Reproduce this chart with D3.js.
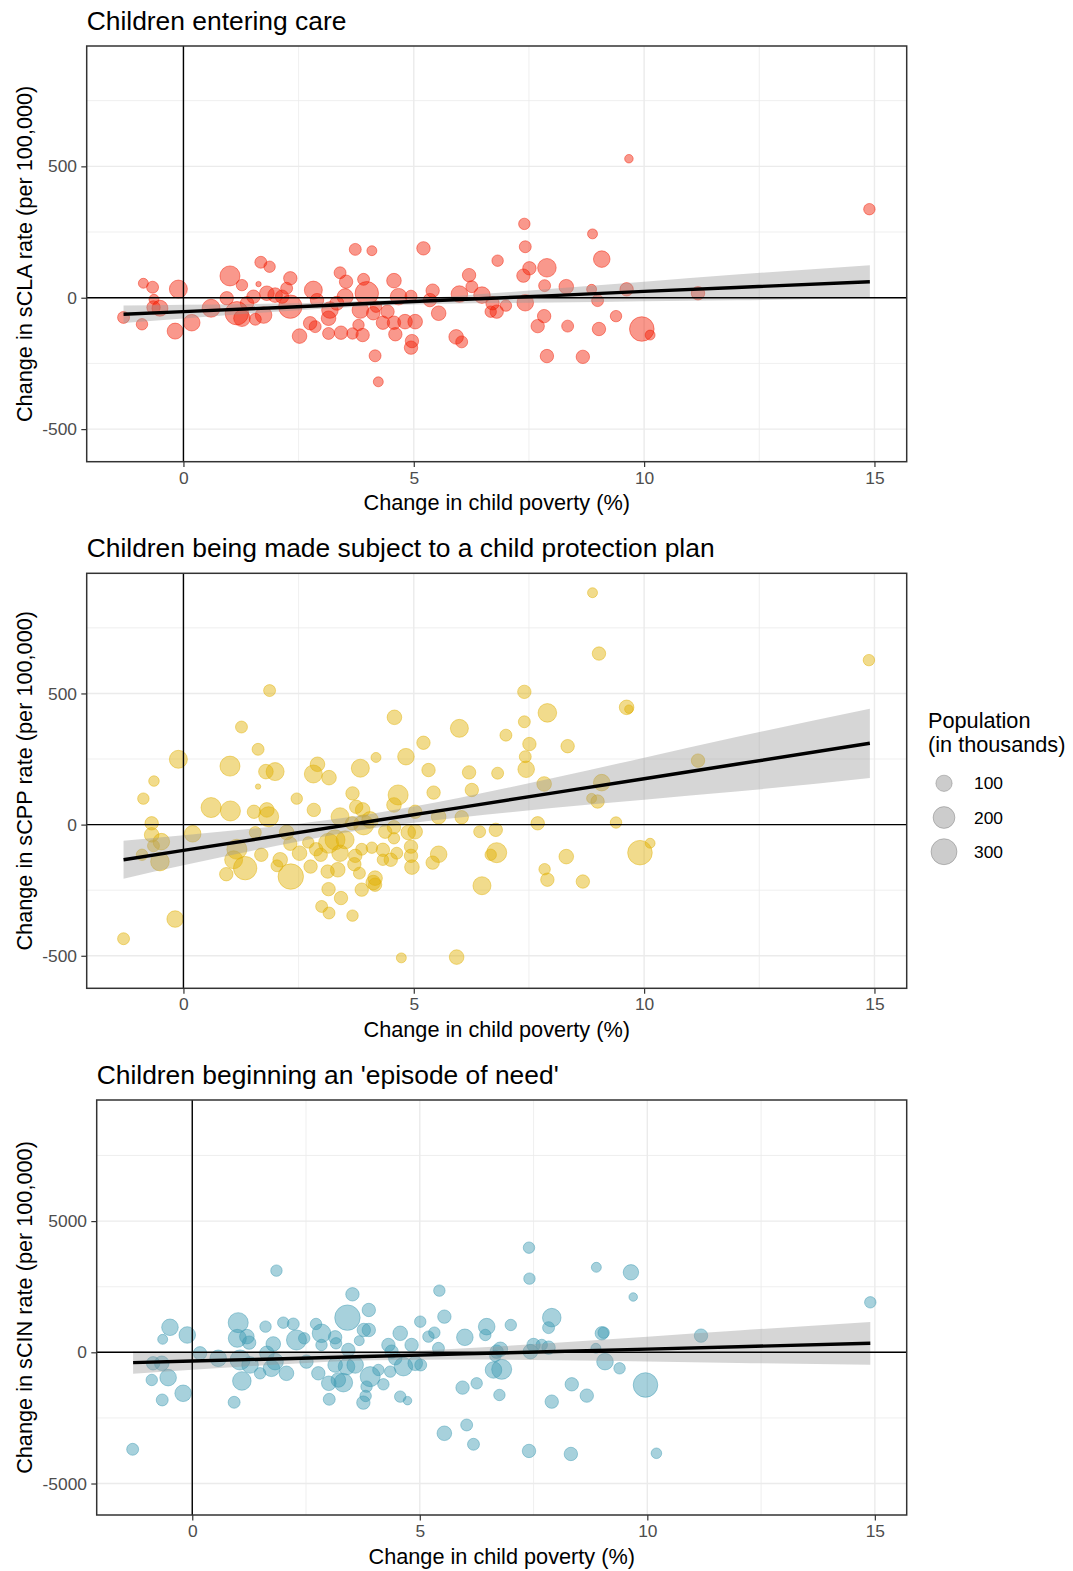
<!DOCTYPE html>
<html>
<head>
<meta charset="utf-8">
<style>
  body { margin: 0; background: #fff; }
  svg text { font-family: "Liberation Sans", Arial, sans-serif; }
</style>
</head>
<body>
<script src="https://cdn.jsdelivr.net/npm/d3@7"></script>
<script>
// points: [change in child poverty (%), change in rate per 100,000, population (thousands)]
const claPoints = [
  [-1.30,-75,45],[-0.90,-101,40],[-0.87,55,27],[-0.67,40,45],[-0.64,-6,27],[-0.65,-37,61],[-0.51,-40,95],
  [-0.11,33,127],[-0.18,-127,95],[0.18,-95,104],[0.60,-40,127],[1.01,83,164],[1.27,48,40],[0.94,-2,61],
  [1.16,-59,236],[1.27,-78,104],[1.38,-21,61],[1.68,135,45],[1.87,118,40],[1.63,52,3],[1.56,-82,45],
  [1.74,-66,104],[1.52,4,61],[1.81,17,76],[1.99,10,76],[2.14,4,61],[2.32,74,61],[2.24,36,45],[2.32,-34,236],
  [2.52,-146,76],[2.82,29,127],[2.75,-97,61],[2.86,-110,45],[3.15,-78,76],[3.15,-136,45],[3.40,95,45],
  [3.53,61,61],[3.42,-133,61],[3.73,184,45],[4.09,179,27],[3.91,70,45],[3.98,17,236],[3.84,-47,104],
  [3.67,-136,40],[3.89,-142,61],[3.80,-104,40],[4.12,-59,61],[4.16,-221,45],[4.23,-320,27],[3.18,-47,104],
  [3.33,-21,68],[3.51,4,95],[2.90,-9,61],[4.57,65,76],[4.67,4,104],[4.94,6,45],[5.41,27,61],[5.35,-9,61],
  [5.21,188,61],[5.99,14,104],[6.26,42,45],[6.20,86,61],[6.48,10,104],[4.18,-34,40],[4.43,-53,61],
  [4.33,-95,61],[4.57,-95,61],[4.60,-139,61],[4.81,-91,76],[5.03,-91,76],[4.96,-165,61],[4.94,-190,61],
  [5.54,-59,76],[5.92,-149,76],[6.04,-168,45],[6.67,-53,40],[6.80,-53,61],[7.00,-30,40],[6.71,-21,61],
  [6.82,141,40],[7.40,281,40],[7.42,194,45],[7.51,112,61],[7.38,84,61],[7.89,114,137],[7.42,-19,104],
  [7.84,46,45],[8.31,42,76],[7.83,-70,61],[7.69,-108,61],[8.34,-108,45],[7.89,-222,61],[8.67,-225,61],
  [8.88,243,27],[9.08,147,104],[9.67,529,17],[8.86,32,27],[8.99,-11,45],[9.02,-119,61],[9.39,-70,40],
  [9.62,32,61],[9.95,-119,264],[10.13,-142,27],[11.17,17,61],[14.89,337,40]
];
const cppPoints = [
  [-1.30,-435,45],[-0.18,-360,104],[-0.87,99,40],[-0.64,166,32],[-0.11,249,127],[-0.69,5,61],[-0.69,-39,76],
  [-0.48,-65,104],[-0.90,-115,40],[-0.51,-141,137],[-0.65,-81,45],[0.20,-35,104],[0.60,65,164],[1.01,223,164],
  [1.02,52,164],[1.26,372,45],[1.62,287,45],[1.87,511,45],[1.79,202,76],[1.99,202,127],[1.62,145,3],
  [1.53,49,61],[1.81,56,76],[1.85,30,164],[1.56,-30,45],[1.16,-94,164],[1.09,-134,127],[1.34,-166,236],
  [0.93,-189,61],[1.69,-115,61],[2.10,-134,76],[2.03,-157,45],[2.33,-198,285],[2.24,-30,76],[2.32,-73,61],
  [2.52,-109,76],[2.46,99,40],[2.83,56,61],[2.82,193,127],[2.91,230,76],[3.16,179,76],[2.76,-160,61],
  [2.71,-68,40],[2.88,-94,61],[2.98,-115,61],[3.13,-179,61],[3.35,-172,76],[3.15,-246,61],[3.00,-312,45],
  [3.16,-337,45],[3.42,-280,61],[3.67,-347,40],[3.87,-248,61],[3.40,30,127],[3.29,-58,164],[3.51,-58,127],
  [3.40,-109,104],[3.73,-119,61],[3.82,-185,45],[3.67,119,61],[3.75,68,61],[3.89,56,76],[3.84,215,127],
  [4.18,256,27],[3.91,-1,164],[3.87,-94,45],[4.12,-221,76],[3.15,-71,164],[3.71,-151,61],[3.66,5,61],
  [8.88,884,27],[9.02,652,61],[7.40,506,61],[7.90,426,137],[9.62,447,76],[9.67,440,17],[4.58,409,76],
  [5.99,367,127],[7.40,392,45],[7.00,341,45],[7.51,307,61],[8.34,299,61],[5.21,312,61],[4.83,259,104],
  [7.42,259,45],[7.44,211,104],[5.32,208,61],[6.20,199,61],[6.82,196,45],[4.66,113,164],[4.57,75,76],
  [5.43,122,61],[6.26,132,61],[7.83,155,76],[9.08,160,104],[8.86,100,27],[8.99,88,61],[5.03,49,61],
  [5.54,30,76],[6.04,28,61],[4.05,18,104],[7.69,5,61],[9.39,8,40],[4.38,-27,61],[4.57,-10,61],[4.57,-52,40],
  [4.88,-30,76],[5.03,-27,76],[6.43,-27,45],[6.78,-20,61],[4.09,-88,40],[4.33,-96,61],[4.33,-134,40],
  [4.50,-134,61],[4.63,-109,45],[4.94,-84,61],[4.94,-119,61],[4.96,-162,76],[5.54,-113,104],[5.41,-145,61],
  [6.80,-107,164],[6.67,-115,40],[6.48,-233,127],[4.16,-204,76],[4.16,-229,61],[7.84,-170,40],[7.90,-210,61],
  [8.31,-122,76],[8.67,-217,61],[9.91,-107,264],[10.13,-71,27],[4.73,-508,27],[5.93,-505,76],[14.88,627,40],
  [11.17,244,61]
];
const cinPoints = [
  [-1.31,-3696,45],[-0.89,-1054,40],[-0.66,-1816,45],[-0.65,495,27],[-0.49,953,104],[-0.53,-965,104],
  [-0.67,-419,76],[-0.86,-419,61],[-0.20,-1562,104],[-0.11,660,104],[0.17,-38,61],[0.57,-229,104],
  [0.92,-1905,45],[1.01,1130,164],[0.99,533,127],[1.20,597,76],[1.25,368,61],[1.09,-1092,137],[1.05,-292,164],
  [1.27,-483,104],[1.61,978,40],[1.85,3112,40],[2.00,1130,40],[2.22,1080,45],[2.29,470,164],[2.46,533,40],
  [1.78,318,76],[1.82,-356,104],[1.74,-610,104],[1.49,-800,40],[2.07,-800,76],[1.64,-38,76],[2.51,-356,61],
  [2.72,1080,40],[2.84,724,137],[2.84,279,40],[3.14,572,61],[3.16,343,40],[3.41,1321,285],[3.52,2210,61],
  [3.88,1613,61],[3.88,851,61],[3.77,851,61],[3.67,444,27],[3.43,89,61],[2.77,-800,61],[3.01,-1791,45],
  [3.00,-1181,76],[3.21,-1054,76],[3.32,-1156,137],[3.14,-483,76],[3.39,-546,104],[3.58,-483,104],
  [3.91,-927,164],[3.83,-1308,40],[3.81,-1664,40],[3.76,-1918,61],[4.09,-673,40],[4.20,-1219,40],
  [4.35,-737,40],[4.31,279,61],[4.38,25,61],[4.57,724,76],[4.57,-1689,40],[4.73,-1842,17],[4.64,-546,137],
  [4.46,-229,61],[4.82,279,61],[4.90,-419,76],[5.02,-483,45],[5.01,1168,40],[5.19,597,40],[5.32,749,40],
  [5.43,2350,40],[5.54,1359,61],[5.41,152,45],[5.94,-1346,61],[6.25,-1181,40],[6.03,-2769,45],
  [6.18,-3505,45],[5.54,-3086,76],[5.99,572,104],[6.47,978,104],[6.44,660,40],[6.69,25,61],[6.62,-673,104],
  [6.75,-1626,40],[7.00,1041,40],[7.40,3988,40],[7.41,2807,40],[7.90,1321,137],[7.83,940,45],[8.88,3239,27],
  [9.64,3048,87],[9.69,2108,17],[9.00,724,61],[9.04,749,40],[11.18,635,61],[14.90,1905,40],[6.77,114,76],
  [6.66,-140,40],[6.80,-648,164],[7.43,25,76],[7.50,279,61],[7.68,279,40],[7.83,178,61],[8.87,152,27],
  [9.07,-356,104],[9.39,-610,40],[9.96,-1245,264],[10.20,-3848,32],[7.90,-1880,61],[8.34,-1219,61],
  [8.67,-1651,61],[7.40,-3759,61],[8.32,-3874,61]
];

// linear fit and 95% band, read at these x values
const fitX   = [-1.3, 0, 2, 4, 6, 8, 10, 12, 14.9];
const claFit = [-63, -53, -38, -22, -7, 8, 24, 39, 61];
const claLo  = [-96, -79, -53, -32, -22, -18, -13, -10, 0];
const claHi  = [-30, -27, -22, -12, 8, 34, 61, 88, 124];
const cppFit = [-134, -98, -44, 11, 65, 120, 175, 230, 310];
const cppLo  = [-206, -155, -82, -17, 27, 63, 95, 126, 178];
const cppHi  = [-62, -41, -6, 39, 102, 177, 255, 334, 442];
const cinFit = [-394, -334, -243, -152, -61, 30, 121, 212, 343];
const cinLo  = [-819, -669, -455, -302, -273, -305, -353, -407, -470];
const cinHi  = [31, 1, -31, -2, 151, 365, 595, 831, 1156];

const xTicks = [0, 5, 10, 15];
const xMinor = [2.5, 7.5, 12.5];
const legendSizes = [100, 200, 300];

const width = 1073, height = 1571;
const svg = d3.select("body").append("svg")
  .attr("width", width).attr("height", height)
  .style("display", "block");

const xDomain = [-2.1, 15.7];
const rScale = d3.scaleSqrt().domain([1, 300]).range([2.2, 13]);

const panels = [
  { title: "Children entering care", ylab: "Change in sCLA rate (per 100,000)", color: "#F21A00",
    pts: claPoints, fit: claFit, lo: claLo, hi: claHi,
    left: 86.7, right: 906.7, top: 46, bottom: 461.7,
    yDomain: [-624, 958], yTicks: [-500, 0, 500], yMinor: [-250, 250, 750] },
  { title: "Children being made subject to a child protection plan", ylab: "Change in sCPP rate (per 100,000)", color: "#E1AF00",
    pts: cppPoints, fit: cppFit, lo: cppLo, hi: cppHi,
    left: 86.7, right: 906.7, top: 573.3, bottom: 988.3,
    yDomain: [-624, 958], yTicks: [-500, 0, 500], yMinor: [-250, 250, 750] },
  { title: "Children beginning an 'episode of need'", ylab: "Change in sCIN rate (per 100,000)", color: "#3B9AB2",
    pts: cinPoints, fit: cinFit, lo: cinLo, hi: cinHi,
    left: 96.7, right: 906.7, top: 1100, bottom: 1515,
    yDomain: [-6200, 9615], yTicks: [-5000, 0, 5000], yMinor: [-2500, 2500, 7500] }
];

function drawPanel(p) {
  const x = d3.scaleLinear().domain(xDomain).range([p.left, p.right]);
  const y = d3.scaleLinear().domain(p.yDomain).range([p.bottom, p.top]);
  const g = svg.append("g");
  const w = p.right - p.left, h = p.bottom - p.top;

  // grid
  const grid = g.append("g");
  grid.selectAll(".vminor").data(xMinor).join("line")
    .attr("x1", d => x(d)).attr("x2", d => x(d)).attr("y1", p.top).attr("y2", p.bottom)
    .attr("stroke", "#ebebeb").attr("stroke-width", 0.8);
  grid.selectAll(".hminor").data(p.yMinor).join("line")
    .attr("x1", p.left).attr("x2", p.right).attr("y1", d => y(d)).attr("y2", d => y(d))
    .attr("stroke", "#ebebeb").attr("stroke-width", 0.8);
  grid.selectAll(".vmajor").data(xTicks).join("line")
    .attr("x1", d => x(d)).attr("x2", d => x(d)).attr("y1", p.top).attr("y2", p.bottom)
    .attr("stroke", "#ebebeb").attr("stroke-width", 1.4);
  grid.selectAll(".hmajor").data(p.yTicks).join("line")
    .attr("x1", p.left).attr("x2", p.right).attr("y1", d => y(d)).attr("y2", d => y(d))
    .attr("stroke", "#ebebeb").attr("stroke-width", 1.4);

  // points
  g.append("g").selectAll("circle").data(p.pts).join("circle")
    .attr("cx", d => x(d[0])).attr("cy", d => y(d[1])).attr("r", d => rScale(d[2]))
    .attr("fill", p.color).attr("fill-opacity", 0.45)
    .attr("stroke", p.color).attr("stroke-opacity", 0.45).attr("stroke-width", 1);

  // smoother band + line
  const band = fitX.map((v, i) => ({ x: v, lo: p.lo[i], hi: p.hi[i], f: p.fit[i] }));
  g.append("path").datum(band)
    .attr("d", d3.area().x(d => x(d.x)).y0(d => y(d.lo)).y1(d => y(d.hi)).curve(d3.curveMonotoneX))
    .attr("fill", "#999999").attr("fill-opacity", 0.4);
  g.append("path").datum(band)
    .attr("d", d3.line().x(d => x(d.x)).y(d => y(d.f)))
    .attr("fill", "none").attr("stroke", "#000").attr("stroke-width", 3.4);

  // reference lines
  g.append("line").attr("x1", p.left).attr("x2", p.right).attr("y1", y(0)).attr("y2", y(0))
    .attr("stroke", "#000").attr("stroke-width", 1.4);
  g.append("line").attr("x1", x(0)).attr("x2", x(0)).attr("y1", p.top).attr("y2", p.bottom)
    .attr("stroke", "#000").attr("stroke-width", 1.4);

  // border
  g.append("rect").attr("x", p.left).attr("y", p.top).attr("width", w).attr("height", h)
    .attr("fill", "none").attr("stroke", "#333333").attr("stroke-width", 1.5);

  // axes
  const xa = g.append("g").attr("transform", `translate(0,${p.bottom})`)
    .call(d3.axisBottom(x).tickValues(xTicks).tickSize(5.4).tickPadding(4.3));
  const ya = g.append("g").attr("transform", `translate(${p.left},0)`)
    .call(d3.axisLeft(y).tickValues(p.yTicks).tickSize(5.4).tickPadding(4.3).tickFormat(d3.format("d")));
  [xa, ya].forEach(a => {
    a.select(".domain").remove();
    a.selectAll(".tick line").attr("stroke", "#333333").attr("stroke-width", 1.2);
    a.selectAll(".tick text").attr("fill", "#4d4d4d")
      .style("font-size", "17.4px").style("font-family", '"Liberation Sans", Arial, sans-serif');
  });
  ya.selectAll(".tick text").text(d => d < 0 ? "-" + Math.abs(d) : d);

  // titles
  g.append("text").attr("x", p.left).attr("y", p.top - 16.3)
    .style("font-size", "26.4px").attr("fill", "#000").text(p.title);
  g.append("text").attr("x", (p.left + p.right) / 2).attr("y", p.bottom + 48.5)
    .attr("text-anchor", "middle").style("font-size", "21.7px").attr("fill", "#000")
    .text("Change in child poverty (%)");
  g.append("text")
    .attr("transform", `translate(32,${(p.top + p.bottom) / 2}) rotate(-90)`)
    .attr("text-anchor", "middle").style("font-size", "21.7px").attr("fill", "#000")
    .text(p.ylab);
}

panels.forEach(drawPanel);

// size legend
const legend = svg.append("g");
legend.append("text").attr("x", 928).attr("y", 728).style("font-size", "21.7px").text("Population");
legend.append("text").attr("x", 928).attr("y", 752).style("font-size", "21.7px").text("(in thousands)");
const keyY = d3.scalePoint().domain(legendSizes).range([783.3, 851.7]);
legend.selectAll("circle").data(legendSizes).join("circle")
  .attr("cx", 944).attr("cy", d => keyY(d)).attr("r", d => rScale(d))
  .attr("fill", "#000").attr("fill-opacity", 0.2)
  .attr("stroke", "#000").attr("stroke-opacity", 0.2).attr("stroke-width", 1);
legend.selectAll(".lab").data(legendSizes).join("text")
  .attr("x", 974).attr("y", d => keyY(d)).attr("dy", "0.35em")
  .style("font-size", "17.4px").attr("fill", "#000").text(d => d);
</script>
</body>
</html>
